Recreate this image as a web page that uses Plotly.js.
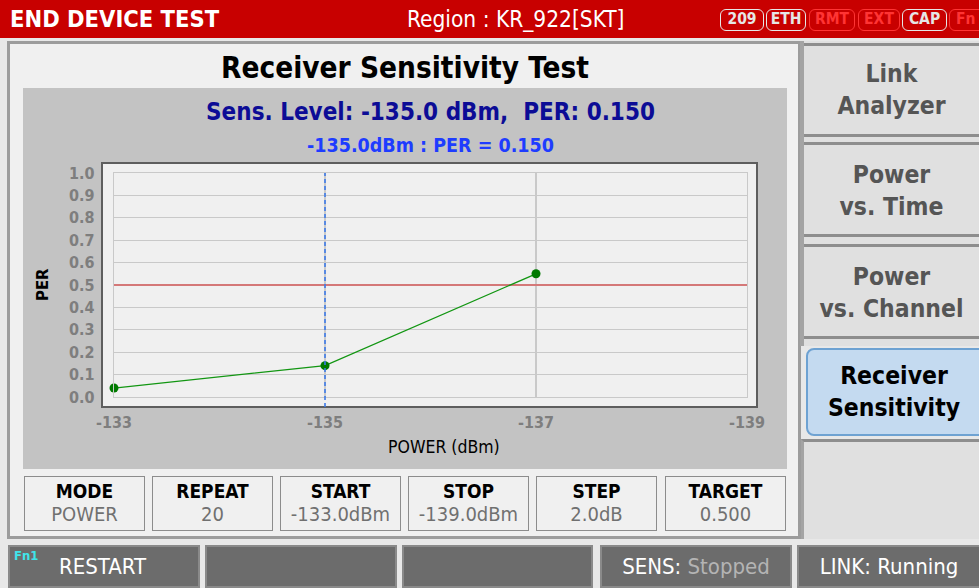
<!DOCTYPE html>
<html>
<head>
<meta charset="utf-8">
<script src="https://cdn.plot.ly/plotly-3.0.1.min.js"></script>
<style>
  html, body { margin:0; padding:0; }
  body { width:979px; height:588px; background:#e8e8e8; position:relative; overflow:hidden;
         font-family:'DejaVu Sans Condensed','DejaVu Sans',sans-serif; font-stretch:condensed; }
  .abs { position:absolute; box-sizing:border-box; }
  .topbar { left:0; top:0; width:979px; height:38px; background:#c80000; }
  .tb-text { color:#fff; top:0; height:38px; line-height:38px; white-space:nowrap; }
  .badge { top:9px; height:22px; line-height:19px; border:1.5px solid #e6e6e6; border-radius:6px;
           color:#e6e6e6; font-weight:bold; font-size:15.5px; text-align:center; }
  .badge.off { border-color:#ff3434; color:#ff3434; }
  .panel { left:7px; top:41px; width:794px; height:498px; background:#f0f0f0; border:3px solid #9c9c9c; }
  .ptitle { left:7px; width:796px; top:51px; text-align:center; font-size:29.5px; font-weight:bold; color:#000; }
  .pbox { top:476px; width:121px; height:55px; border:1.5px solid #8c8c8c; background:#f0f0f0; text-align:center; }
  .pbox .l { position:absolute; left:0; right:0; top:3px; font-size:19px; font-weight:bold; color:#000; }
  .pbox .v { position:absolute; left:0; right:0; top:25px; font-size:20px; color:#707070; }
  .tabcol { left:800px; top:41px; width:179px; height:305px; background:#e0e0e0; border-left:4px solid #a4a4a4; }
  .tab { left:804px; width:175px; background:#e0e0e0; border-top:3px solid #8e8e8e; border-bottom:3px solid #8e8e8e;
         text-align:center; color:#555; font-weight:bold; font-size:24.5px; line-height:32px; }
  .tab .t { position:absolute; left:0; right:0; }
  .tabsel { left:806px; top:348px; width:180px; height:88px; background:#c4daf0; border:2px solid #6ea2d2;
            border-radius:8px; color:#000; font-weight:bold; font-size:24.5px; line-height:32px; text-align:center; }
  .status { top:545px; height:43px; background:#6c6c6c; border:2px solid #8a8a8a; color:#fff; font-size:22px;
            line-height:40px; white-space:nowrap; }
</style>
</head>
<body>
<div class="abs topbar"></div>
<div class="abs tb-text" style="left:10px;font-size:23.5px;font-weight:bold;">END DEVICE TEST</div>
<div class="abs tb-text" style="left:407px;font-size:22.5px;">Region : KR_922[SKT]</div>
<div class="abs badge" style="left:720px;width:44px;">209</div>
<div class="abs badge" style="left:766px;width:40px;">ETH</div>
<div class="abs badge off" style="left:809px;width:46px;">RMT</div>
<div class="abs badge off" style="left:858px;width:42px;">EXT</div>
<div class="abs badge" style="left:902px;width:45px;">CAP</div>
<div class="abs badge off" style="left:949px;width:40px;text-align:left;padding-left:6px;">Fn</div>

<div class="abs panel"></div>
<div class="abs ptitle">Receiver Sensitivity Test</div>
<div id="chart" class="abs" style="left:23px;top:88px;width:764px;height:381px;"></div>

<div class="abs pbox" style="left:24px;"><div class="l">MODE</div><div class="v">POWER</div></div>
<div class="abs pbox" style="left:152px;"><div class="l">REPEAT</div><div class="v">20</div></div>
<div class="abs pbox" style="left:280px;"><div class="l">START</div><div class="v">-133.0dBm</div></div>
<div class="abs pbox" style="left:408px;"><div class="l">STOP</div><div class="v">-139.0dBm</div></div>
<div class="abs pbox" style="left:536px;"><div class="l">STEP</div><div class="v">2.0dB</div></div>
<div class="abs pbox" style="left:665px;"><div class="l">TARGET</div><div class="v">0.500</div></div>

<div class="abs tabcol"></div>
<div class="abs tab" style="top:43px;height:94px;"><div class="t" style="top:12px;">Link<br>Analyzer</div></div>
<div class="abs tab" style="top:142px;height:95px;"><div class="t" style="top:14px;">Power<br>vs. Time</div></div>
<div class="abs tab" style="top:244px;height:95px;"><div class="t" style="top:14px;">Power<br>vs. Channel</div></div>
<div class="abs tabsel"><div style="position:absolute;left:0;right:4px;top:10px;">Receiver<br>Sensitivity</div></div>
<div class="abs tab" style="top:439px;height:100px;border-bottom:none;border-left:3px solid #a4a4a4;left:801px;width:178px;"></div>

<div class="abs status" style="left:8px;width:192px;">
  <span style="position:absolute;left:4px;top:-11px;font-size:13px;color:#3fe4ea;font-weight:bold;">Fn1</span>
  <span style="position:absolute;left:49px;">RESTART</span>
</div>
<div class="abs status" style="left:205px;width:192px;"></div>
<div class="abs status" style="left:402px;width:191px;"></div>
<div class="abs status" style="left:600px;width:192px;text-align:center;">SENS: <span style="color:#b4b4b4;">Stopped</span></div>
<div class="abs status" style="left:797px;width:184px;text-align:center;">LINK: Running</div>

<script>
// ---- data ----
const powerDbm = [-133, -135, -137];
const perValues = [0.04, 0.14, 0.55];
const xTickVals = [-133, -135, -137, -139];
const xTickLabels = ['-133', '-135', '-137', '-139'];
const yTickVals = [0, 0.1, 0.2, 0.3, 0.4, 0.5, 0.6, 0.7, 0.8, 0.9, 1.0];
const yTickLabels = ['0.0','0.1','0.2','0.3','0.4','0.5','0.6','0.7','0.8','0.9','1.0'];
const targetPer = 0.5;
const sweepRange = [-133, -139];
const sensLevel = -135.0;
const sensPer = 0.150;

const FONT = "DejaVu Sans Condensed, DejaVu Sans, sans-serif";
const W = 764, H = 381, ML = 91, MR = 40, MT = 85, MB = 72;
const PW = W - ML - MR, PH = H - MT - MB;

const traces = [
  { x: sweepRange, y: [targetPer, targetPer], mode: 'lines', type: 'scatter',
    line: { color: '#e02828', width: 1.2 }, hoverinfo: 'skip', cliponaxis: false },
  { x: powerDbm, y: perValues, mode: 'lines+markers', type: 'scatter',
    line: { color: '#129612', width: 1.3 }, marker: { color: '#007a00', size: 9 }, cliponaxis: false }
];

const axisCommon = {
  showgrid: true, gridcolor: '#c9c9c9', gridwidth: 1.3, showline: true, linecolor: '#c9c9c9',
  linewidth: 1.3, mirror: true, zeroline: false, ticks: '', fixedrange: true,
  tickfont: { family: FONT, size: 16, color: '#7e7e7e', weight: 'bold' }
};

const layout = {
  width: W, height: H,
  margin: { l: ML, r: MR, t: MT, b: MB, pad: 0 },
  paper_bgcolor: '#c3c3c3', plot_bgcolor: 'rgba(0,0,0,0)',
  showlegend: false,
  title: { text: `Sens. Level: ${sensLevel.toFixed(1)} dBm,&nbsp; PER: ${sensPer.toFixed(3)}`,
           font: { family: FONT, size: 24, color: '#0c0c96', weight: 'bold' },
           xref: 'paper', x: 0.5, xanchor: 'center', yref: 'container', y: 1 - 24 / H, yanchor: 'middle' },
  xaxis: Object.assign({}, axisCommon, { range: sweepRange, tickvals: xTickVals, ticktext: xTickLabels,
           ticklabelstandoff: 10 }),
  yaxis: Object.assign({}, axisCommon, { range: [0, 1], tickvals: yTickVals, ticktext: yTickLabels,
           ticklabelstandoff: 15 }),
  shapes: [
    { type: 'rect', xref: 'paper', yref: 'paper', layer: 'below',
      x0: -12 / PW, x1: 1 + 10 / PW, y0: -10 / PH, y1: 1 + 10 / PH,
      fillcolor: '#f0f0f0', line: { color: '#5e5e5e', width: 2 } },
    { type: 'line', xref: 'x', yref: 'paper', x0: sensLevel, x1: sensLevel, y0: -10 / PH, y1: 1,
      line: { color: '#3d7ae8', width: 1.6, dash: '4px,3px' } }
  ],
  annotations: [
    { text: `${sensLevel.toFixed(1)}dBm : PER = ${sensPer.toFixed(3)}`, xref: 'paper', yref: 'paper',
      x: 0.5, y: 1 + (MT - 57) / PH, xanchor: 'center', yanchor: 'middle', showarrow: false,
      font: { family: FONT, size: 19.5, color: '#1e3cff', weight: 'bold' } },
    { text: 'PER', xref: 'paper', yref: 'paper', x: (42 - 114) / PW, y: 0.5, textangle: -90,
      xanchor: 'center', yanchor: 'middle', showarrow: false,
      font: { family: FONT, size: 16.5, color: '#000', weight: 'bold' } },
    { text: 'POWER (dBm)', xref: 'paper', yref: 'paper', x: (444 - 114) / PW, y: -(447 - 397) / PH,
      xanchor: 'center', yanchor: 'middle', showarrow: false,
      font: { family: FONT, size: 17.5, color: '#000' } }
  ]
};

Plotly.newPlot('chart', traces, layout, { displayModeBar: false, staticPlot: true });
</script>
</body>
</html>
